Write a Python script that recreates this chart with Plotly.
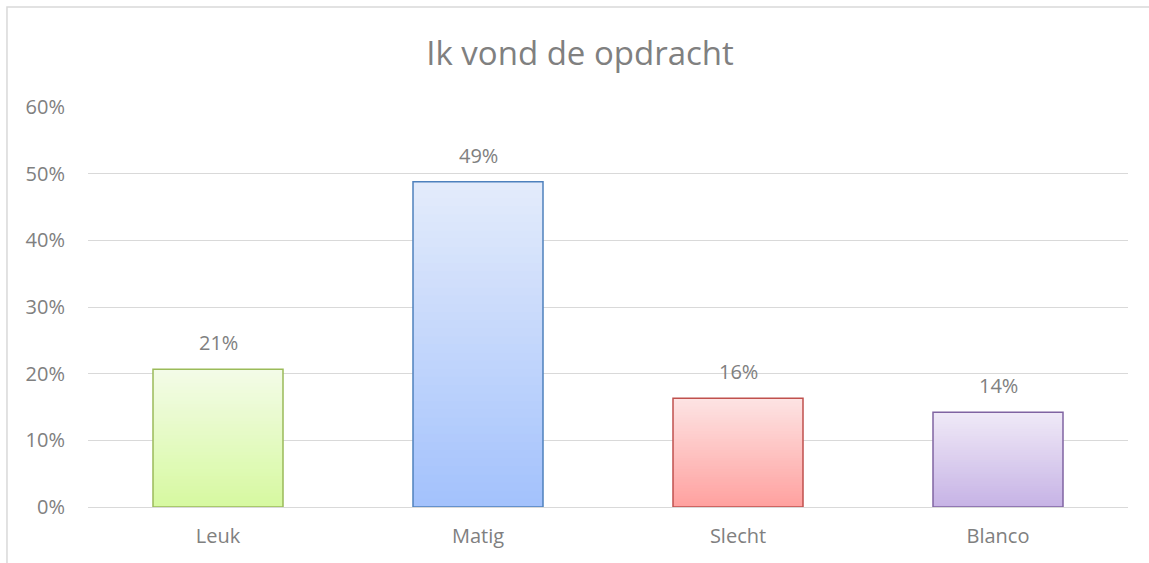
import plotly.graph_objects as go

# Survey answers and their shares
categories = ["Leuk", "Matig", "Slecht", "Blanco"]
shares = [0.2066, 0.488, 0.163, 0.142]

# Fill gradient (top colour, bottom colour) and outline per category
top_colors = ["#f3fbe7", "#e3ebfb", "#fde3e3", "#efe9f7"]
bottom_colors = ["#d6f99f", "#a2c1fc", "#ffa09e", "#c6b2e5"]
line_colors = ["#9bbb59", "#4f81bd", "#c0504d", "#8064a2"]

FONT = "Open Sans"
GREY = "#808080"
GRID = "#d9d9d9"
STEPS = 40


def hex_to_rgb(h):
    h = h.lstrip("#")
    return tuple(int(h[i:i + 2], 16) for i in (0, 2, 4))


def mix(c_top, c_bot, f):
    a, b = hex_to_rgb(c_top), hex_to_rgb(c_bot)
    r = [round(b[i] + (a[i] - b[i]) * f) for i in range(3)]
    return "rgb({},{},{})".format(*r)


fig = go.Figure()

# Vertical gradient: overlaid bars, tallest (lightest) first, shorter and darker on top
for k in range(STEPS):
    f = (STEPS - k) / STEPS
    fig.add_trace(go.Bar(
        x=categories,
        y=[v * f for v in shares],
        width=0.5,
        marker=dict(color=[mix(t, b, f) for t, b in zip(top_colors, bottom_colors)],
                    line=dict(width=0)),
        hoverinfo="skip",
        showlegend=False,
    ))

# Outline of each bar
fig.add_trace(go.Bar(
    x=categories,
    y=shares,
    width=0.5,
    marker=dict(color="rgba(0,0,0,0)", line=dict(color=line_colors, width=1.5)),
    showlegend=False,
    hovertemplate="%{x}: %{y:.0%}<extra></extra>",
))

# Value labels above the bars
for c, v in zip(categories, shares):
    fig.add_annotation(x=c, y=v, text=f"{v:.0%}", showarrow=False,
                       yanchor="bottom", yshift=11,
                       font=dict(family=FONT, size=20, color=GREY))

# Chart frame
fig.add_shape(type="rect", xref="paper", yref="paper",
              x0=-0.0779, x1=1.05, y0=-0.2, y1=1.25,
              line=dict(color=GRID, width=1.5), fillcolor="rgba(0,0,0,0)",
              layer="below")

fig.update_layout(
    width=1149, height=563,
    margin=dict(l=88, r=21, t=107, b=56),
    paper_bgcolor="white", plot_bgcolor="white",
    barmode="overlay",
    bargap=0.5,
    title=dict(text="Ik vond de opdracht", x=580 / 1149, xanchor="center",
               xref="container",
               y=1 - 53 / 563, yanchor="middle", yref="container",
               font=dict(family=FONT, size=33, color=GREY)),
    xaxis=dict(showgrid=False, showline=False, ticks="",
               ticklabelstandoff=15,
               tickfont=dict(family=FONT, size=20, color=GREY)),
    yaxis=dict(range=[0, 0.6], dtick=0.1, tickformat=".0%",
               gridcolor=GRID, gridwidth=1, zeroline=True, zerolinecolor=GRID,
               zerolinewidth=1, showline=False, ticks="",
               ticklabelstandoff=22,
               tickfont=dict(family=FONT, size=20, color=GREY)),
    showlegend=False,
)

fig.write_html("out.html")
